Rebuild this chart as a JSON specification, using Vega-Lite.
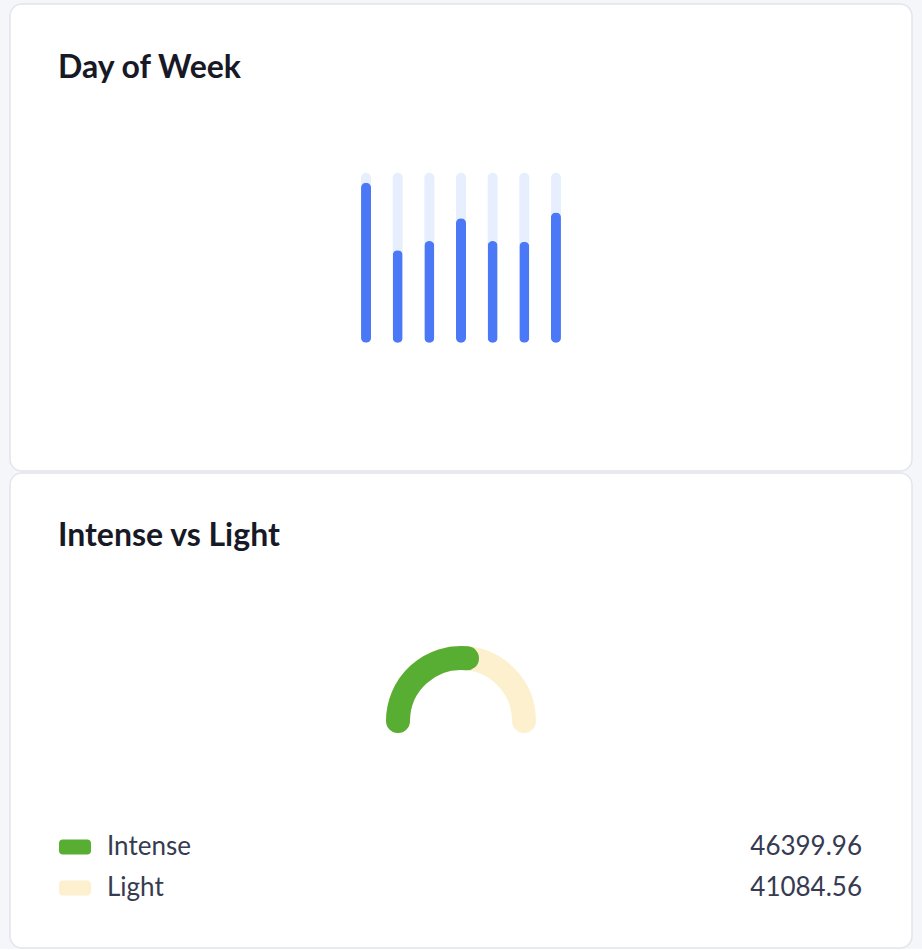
{
  "$schema": "https://vega.github.io/schema/vega-lite/v6.json",
  "background": "#f5f6fa",
  "padding": {"left": 9, "top": 3, "right": 11, "bottom": 0},
  "spacing": 0,
  "datasets": {
    "days": [
      {"day": "Mon", "share": 94.1},
      {"day": "Tue", "share": 54.4},
      {"day": "Wed", "share": 59.8},
      {"day": "Thu", "share": 73.2},
      {"day": "Fri", "share": 59.8},
      {"day": "Sat", "share": 59.4},
      {"day": "Sun", "share": 76.5}
    ],
    "split": [
      {"type": "Intense", "value": 46399.96},
      {"type": "Light", "value": 41084.56}
    ]
  },
  "vconcat": [
    {
      "width": 902,
      "height": 467,
      "title": {"text": "Day of Week", "offset": -81},
      "data": {"name": "days"},
      "encoding": {
        "x": {
          "field": "day",
          "type": "nominal",
          "sort": null,
          "scale": {"paddingInner": 0, "paddingOuter": 0, "range": [340.2, 561.8]},
          "axis": null
        }
      },
      "layer": [
        {
          "mark": {"type": "bar", "width": 10, "cornerRadius": 5, "color": "#e7eefd"},
          "encoding": {
            "y": {
              "datum": 100,
              "type": "quantitative",
              "scale": {"domain": [-75.5, 199.2], "nice": false, "zero": false},
              "axis": null
            }
          }
        },
        {
          "mark": {"type": "bar", "width": 10, "cornerRadius": 5, "color": "#4a78f6"},
          "encoding": {
            "y": {
              "field": "share",
              "type": "quantitative",
              "scale": {"domain": [-75.5, 199.2], "nice": false, "zero": false},
              "axis": null
            }
          }
        }
      ]
    },
    {
      "width": 902,
      "height": 475,
      "title": {"text": "Intense vs Light", "offset": -80},
      "data": {"name": "split"},
      "layer": [
        {
          "mark": {
            "type": "arc",
            "radius": 63,
            "radius2": 63,
            "filled": false,
            "stroke": "#fdf0cf",
            "strokeWidth": 24,
            "strokeJoin": "round",
            "strokeCap": "round",
            "yOffset": 10.5
          },
          "encoding": {
            "theta": {
              "aggregate": "sum",
              "field": "value",
              "type": "quantitative",
              "scale": {"range": [-1.5708, 1.5708]}
            }
          }
        },
        {
          "transform": [{"filter": "datum.type === 'Intense'"}],
          "mark": {
            "type": "arc",
            "radius": 63,
            "radius2": 63,
            "filled": false,
            "stroke": "#58ad33",
            "strokeWidth": 24,
            "strokeJoin": "round",
            "strokeCap": "round",
            "yOffset": 10.5
          },
          "encoding": {
            "theta": {"field": "value", "type": "quantitative"}
          }
        },
        {
          "mark": {
            "type": "point",
            "shape": "M-0.75,-0.47L0.75,-0.47Q1,-0.47 1,-0.22L1,0.22Q1,0.47 0.75,0.47L-0.75,0.47Q-1,0.47 -1,0.22L-1,-0.22Q-1,-0.47 -0.75,-0.47Z",
            "size": 1024,
            "filled": true,
            "opacity": 1
          },
          "encoding": {
            "x": {"value": 65},
            "y": {
              "field": "type",
              "type": "nominal",
              "scale": {"type": "point", "padding": 0, "range": [374, 415]},
              "axis": null
            },
            "color": {
              "field": "type",
              "type": "nominal",
              "scale": {"domain": ["Intense", "Light"], "range": ["#58ad33", "#fdf0cf"]},
              "legend": null
            }
          }
        },
        {
          "mark": {"type": "text", "align": "left", "baseline": "middle", "fontSize": 26, "font": "Lato", "color": "#363b51"},
          "encoding": {
            "x": {"value": 97},
            "y": {"field": "type", "type": "nominal", "axis": null},
            "text": {"field": "type"}
          }
        },
        {
          "mark": {"type": "text", "align": "right", "baseline": "middle", "fontSize": 26, "font": "Lato", "color": "#363b51", "dx": -50},
          "encoding": {
            "x": {"value": "width"},
            "y": {"field": "type", "type": "nominal", "axis": null},
            "text": {"field": "value", "type": "quantitative", "format": ".2f"}
          }
        }
      ]
    }
  ],
  "config": {
    "font": "Lato",
    "view": {"fill": "#ffffff", "stroke": "#e3e5eb", "strokeWidth": 1.5, "cornerRadius": 12},
    "title": {
      "anchor": "start",
      "dx": 48,
      "baseline": "alphabetic",
      "fontSize": 32,
      "fontWeight": "bold",
      "color": "#171926",
      "font": "Lato"
    }
  }
}
